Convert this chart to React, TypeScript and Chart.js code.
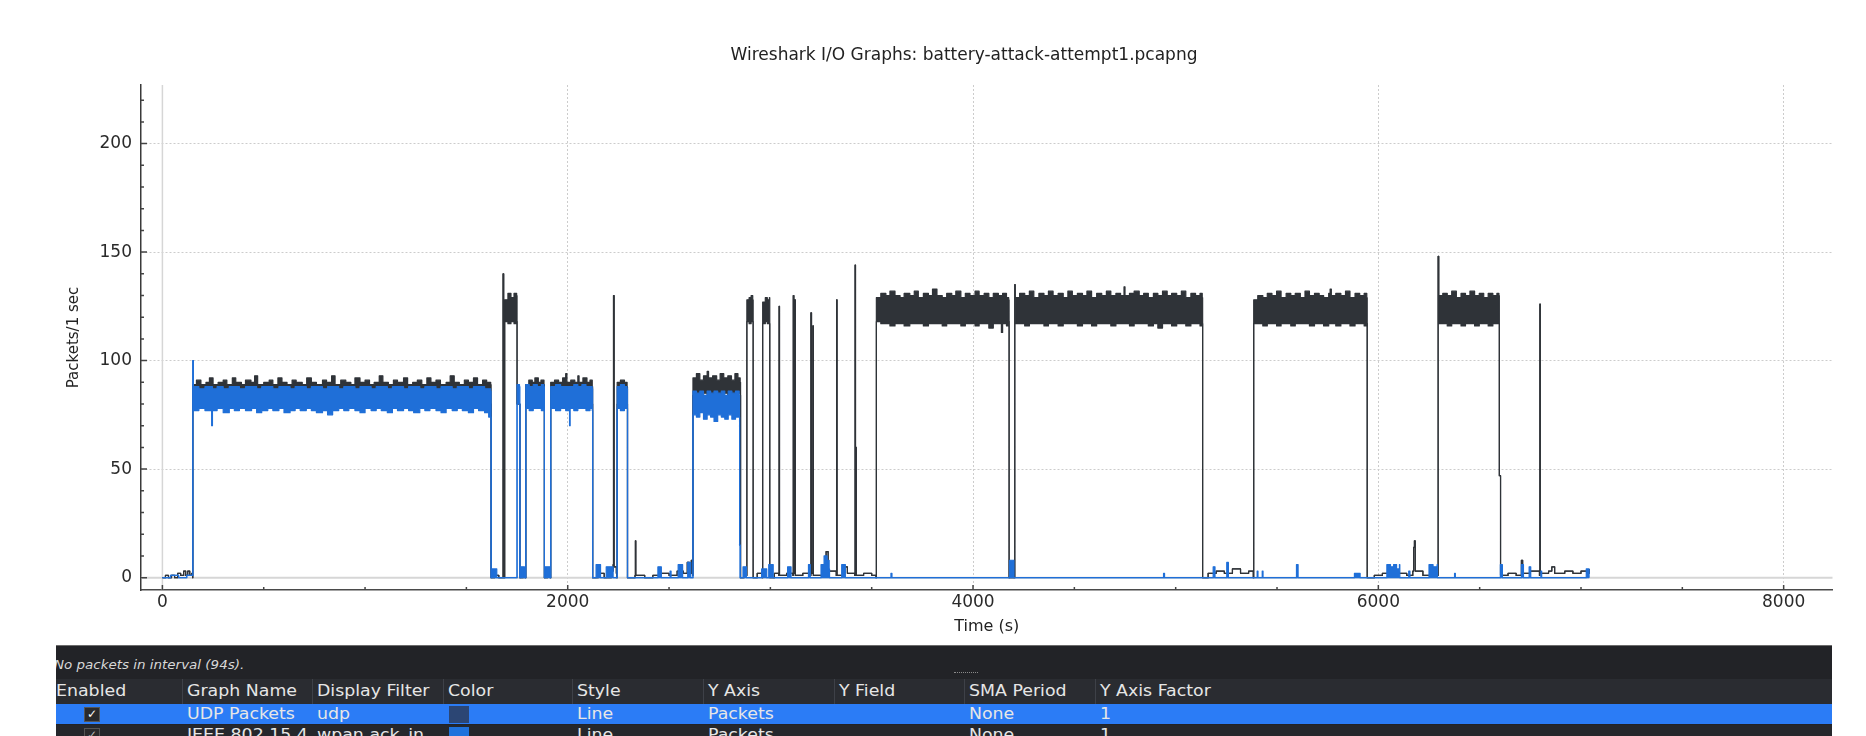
import React, { useEffect, useRef } from 'react';
import { Chart, registerables } from 'chart.js';

Chart.register(...registerables);

// ---------------- data ----------------
const chartTitle = 'Wireshark I/O Graphs: battery-attack-attempt1.pcapng';
const xAxisTitle = 'Time (s)';
const yAxisTitle = 'Packets/1 sec';

const xTicks = [0, 2000, 4000, 6000, 8000];
const xMinorTicks = [500, 1000, 1500, 2500, 3000, 3500, 4500, 5000, 5500, 6500, 7000, 7500];
const yTicks = [0, 50, 100, 150, 200];
const yMinorTicks = [10, 20, 30, 40, 60, 70, 80, 90, 110, 120, 130, 140, 160, 170, 180, 190, 210, 220];

// UDP Packets: [time s, upper envelope, lower envelope] (packets / 1 s)
const udpSamples: number[][] = [
  [0, 0, 0], [15, 1, 1], [30, 0, 0], [45, 1, 1], [60, 0, 0], [75, 2, 2], [90, 1, 1], [105, 3, 3], [115, 1, 1], [125, 3, 3], [135, 1, 1], [145, 2, 2], [149, 0, 0],
  [150, 89, 80], [168, 91, 80], [190, 89, 80], [215, 90, 80], [232, 92, 80], [250, 89, 80], [275, 90, 80], [300, 91, 80], [318, 89, 80], [345, 92, 80], [362, 90, 80], [390, 89, 80], [410, 91, 80], [437, 90, 80], [455, 93, 80], [470, 89, 80], [500, 90, 80], [527, 91, 80], [545, 89, 80], [570, 92, 80], [590, 90, 80], [615, 89, 80], [640, 91, 80], [660, 90, 80], [690, 89, 80], [712, 92, 80], [735, 90, 80], [760, 89, 80], [790, 91, 80], [810, 90, 80], [835, 93, 80], [852, 89, 80], [880, 91, 80], [905, 90, 80], [930, 89, 80], [950, 92, 80], [975, 90, 80], [1000, 91, 80], [1022, 89, 80], [1045, 90, 80], [1070, 93, 80], [1088, 90, 80], [1115, 89, 80], [1140, 91, 80], [1160, 90, 80], [1190, 92, 80], [1210, 89, 80], [1235, 90, 80], [1258, 91, 80], [1280, 89, 80], [1305, 92, 80], [1325, 90, 80], [1350, 91, 80], [1372, 89, 80], [1400, 90, 80], [1420, 93, 80], [1440, 90, 80], [1465, 89, 80], [1490, 91, 80], [1510, 90, 80], [1535, 92, 80], [1555, 89, 80], [1580, 91, 80], [1600, 90, 80], [1620, 89, 80],
  [1622, 0, 0], [1640, 1, 1], [1660, 0, 0], [1679, 0, 0], [1681, 140, 140], [1684, 0, 0], [1687, 0, 0], [1689, 128, 118], [1705, 131, 117], [1720, 129, 118], [1735, 131, 117], [1748, 130, 118], [1750, 80, 80], [1762, 80, 80], [1764, 0, 0], [1780, 1, 1], [1791, 0, 0],
  [1793, 89, 80], [1808, 91, 80], [1825, 90, 80], [1838, 92, 80], [1855, 90, 80], [1868, 91, 80], [1883, 89, 80], [1885, 0, 0], [1900, 3, 3], [1914, 0, 0],
  [1916, 90, 80], [1935, 91, 80], [1955, 90, 80], [1975, 92, 80], [1990, 94, 80], [1996, 90, 80], [2015, 91, 80], [2035, 90, 80], [2050, 93, 80], [2056, 90, 80], [2075, 92, 80], [2095, 90, 80], [2110, 91, 80], [2121, 88, 80], [2123, 0, 0], [2150, 2, 2], [2180, 0, 0], [2215, 3, 3], [2224, 6, 6], [2226, 130, 130], [2229, 5, 5], [2240, 2, 2], [2242, 0, 0],
  [2244, 90, 80], [2260, 91, 80], [2280, 90, 80], [2293, 88, 80], [2295, 0, 0], [2332, 1, 1], [2334, 17, 17], [2336, 1, 1], [2380, 0, 0], [2420, 1, 1], [2460, 2, 2], [2500, 1, 1], [2540, 3, 3], [2570, 2, 2], [2590, 7, 7], [2600, 2, 2], [2610, 8, 8], [2616, 1, 1],
  [2618, 92, 84], [2635, 94, 85], [2652, 91, 84], [2670, 93, 85], [2688, 95, 84], [2695, 92, 85], [2715, 93, 84], [2735, 91, 85], [2752, 94, 84], [2770, 92, 85], [2790, 93, 84], [2808, 91, 85], [2825, 94, 84], [2840, 92, 85], [2851, 90, 84], [2853, 0, 0], [2870, 4, 4], [2882, 1, 1],
  [2884, 128, 118], [2895, 129, 117], [2905, 130, 118], [2913, 128, 118], [2915, 0, 0], [2935, 2, 2], [2960, 0, 0],
  [2962, 127, 117], [2975, 129, 118], [2985, 128, 117], [2995, 129, 117], [2997, 0, 0], [3020, 2, 2], [3041, 1, 1], [3043, 125, 125], [3045, 1, 1], [3080, 2, 2], [3111, 1, 1], [3113, 130, 130], [3116, 2, 2], [3119, 2, 2], [3121, 128, 128], [3123, 1, 1], [3160, 2, 2], [3198, 1, 1], [3200, 122, 122], [3203, 2, 2], [3208, 2, 2], [3210, 116, 116], [3212, 1, 1], [3260, 3, 3], [3275, 12, 12], [3285, 3, 3], [3325, 1, 1], [3327, 128, 128], [3329, 1, 1], [3360, 5, 5], [3380, 2, 2], [3416, 1, 1], [3418, 144, 144], [3420, 2, 2], [3422, 60, 60], [3424, 1, 1], [3460, 2, 2], [3500, 1, 1], [3521, 0, 0],
  [3523, 129, 118], [3545, 131, 117], [3570, 130, 117], [3590, 132, 116], [3615, 130, 117], [3640, 129, 117], [3660, 131, 116], [3688, 130, 117], [3710, 132, 117], [3730, 129, 117], [3755, 131, 116], [3780, 130, 117], [3800, 133, 117], [3822, 130, 117], [3848, 129, 116], [3870, 131, 117], [3895, 130, 117], [3915, 132, 117], [3940, 129, 116], [3962, 131, 117], [3985, 130, 117], [4010, 132, 116], [4030, 130, 117], [4055, 131, 117], [4078, 129, 115], [4100, 131, 117], [4125, 130, 117], [4140, 130, 113], [4146, 131, 117], [4165, 129, 116], [4176, 128, 118],
  [4178, 0, 0], [4204, 0, 0], [4206, 135, 135], [4208, 129, 117], [4230, 131, 117], [4255, 130, 116], [4278, 132, 117], [4300, 129, 117], [4325, 131, 117], [4350, 130, 116], [4372, 132, 117], [4395, 130, 117], [4420, 131, 116], [4445, 129, 117], [4468, 132, 117], [4490, 130, 117], [4515, 131, 116], [4540, 130, 117], [4562, 132, 117], [4585, 129, 116], [4610, 131, 117], [4635, 130, 117], [4658, 132, 117], [4680, 130, 116], [4705, 131, 117], [4728, 130, 117], [4745, 134, 117], [4750, 130, 117], [4772, 131, 116], [4795, 132, 117], [4820, 130, 117], [4842, 131, 117], [4865, 129, 116], [4890, 131, 117], [4912, 130, 115], [4935, 132, 117], [4958, 130, 117], [4980, 131, 116], [5005, 130, 117], [5028, 132, 117], [5050, 129, 116], [5075, 131, 117], [5098, 130, 117], [5120, 131, 116], [5131, 129, 117],
  [5133, 0, 0], [5160, 2, 2], [5200, 3, 3], [5240, 2, 2], [5280, 4, 4], [5320, 2, 2], [5360, 3, 3], [5383, 0, 0],
  [5385, 128, 117], [5405, 130, 117], [5430, 129, 116], [5452, 131, 117], [5475, 130, 117], [5498, 132, 116], [5520, 129, 117], [5545, 131, 117], [5568, 130, 116], [5590, 131, 117], [5615, 129, 117], [5638, 132, 117], [5660, 130, 116], [5685, 131, 117], [5708, 130, 117], [5730, 129, 116], [5755, 131, 117], [5762, 133, 117], [5768, 130, 117], [5790, 131, 116], [5815, 130, 117], [5838, 132, 117], [5860, 129, 116], [5885, 131, 117], [5908, 130, 117], [5930, 131, 116], [5943, 129, 117],
  [5945, 0, 0], [5980, 1, 1], [6020, 2, 2], [6060, 3, 3], [6100, 2, 2], [6140, 1, 1], [6170, 3, 3], [6174, 14, 14], [6178, 17, 17], [6182, 3, 3], [6220, 1, 1], [6260, 4, 4], [6293, 1, 1], [6295, 148, 148],
  [6298, 130, 117], [6318, 131, 117], [6340, 130, 116], [6362, 132, 117], [6385, 129, 117], [6408, 131, 116], [6430, 130, 117], [6452, 132, 117], [6475, 130, 116], [6498, 131, 117], [6520, 129, 117], [6542, 131, 116], [6565, 130, 117], [6585, 131, 117], [6595, 130, 117],
  [6597, 47, 47], [6601, 47, 47], [6603, 1, 1], [6640, 2, 2], [6680, 1, 1], [6706, 8, 8], [6712, 2, 2], [6750, 3, 3], [6795, 1, 1], [6797, 126, 126], [6799, 2, 2], [6840, 3, 3], [6856, 5, 5], [6870, 2, 2], [6920, 3, 3], [6960, 2, 2], [7000, 3, 3], [7030, 2, 2], [7040, 4, 4],
];

// IEEE 802.15.4 (wpan.ack_in): [time s, upper envelope, lower envelope]
const ackSamples: number[][] = [
  [0, 0, 0], [40, 1, 1], [80, 0, 0], [120, 1, 1], [148, 1, 1], [150, 100, 100], [153, 88, 77],
  [180, 87, 78], [210, 88, 77], [243, 88, 70], [247, 87, 77], [270, 88, 78], [300, 87, 76], [330, 88, 78], [355, 88, 77], [380, 87, 78], [410, 88, 77], [440, 88, 78], [465, 87, 76], [490, 88, 77], [520, 88, 78], [545, 87, 77], [575, 88, 78], [600, 88, 76], [630, 87, 77], [655, 88, 78], [680, 88, 77], [710, 87, 78], [735, 88, 77], [760, 88, 76], [790, 87, 77], [815, 88, 75], [840, 88, 77], [870, 87, 78], [895, 88, 77], [920, 88, 78], [950, 87, 77], [975, 88, 76], [1000, 88, 78], [1030, 87, 77], [1055, 88, 78], [1080, 88, 77], [1110, 87, 76], [1135, 88, 78], [1160, 88, 77], [1190, 87, 78], [1215, 88, 77], [1240, 88, 76], [1270, 87, 78], [1295, 88, 77], [1320, 88, 78], [1350, 87, 77], [1375, 88, 76], [1400, 88, 78], [1430, 87, 77], [1455, 88, 78], [1480, 88, 77], [1510, 87, 76], [1535, 88, 78], [1560, 88, 77], [1590, 87, 76], [1610, 87, 74], [1620, 86, 74],
  [1622, 0, 0], [1626, 4, 0], [1648, 4, 0], [1650, 0, 0], [1748, 0, 0], [1750, 89, 80], [1762, 88, 80], [1764, 0, 0], [1768, 5, 0], [1785, 5, 0], [1787, 0, 0], [1791, 0, 0],
  [1793, 89, 78], [1810, 88, 77], [1830, 89, 78], [1850, 88, 78], [1870, 89, 77], [1883, 88, 78], [1885, 0, 0], [1888, 5, 0], [1912, 5, 0], [1914, 0, 0],
  [1916, 88, 78], [1940, 89, 77], [1965, 88, 78], [1990, 88, 77], [2006, 88, 78], [2009, 88, 70], [2012, 88, 78], [2030, 89, 77], [2050, 88, 78], [2070, 89, 78], [2090, 88, 77], [2110, 88, 78], [2121, 87, 77], [2123, 0, 0], [2138, 0, 0], [2140, 6, 0], [2160, 6, 0], [2162, 0, 0], [2188, 0, 0], [2190, 5, 0], [2222, 5, 0], [2224, 0, 0], [2242, 0, 0],
  [2244, 88, 78], [2260, 89, 77], [2280, 88, 78], [2293, 87, 78], [2295, 0, 0], [2443, 0, 0], [2445, 5, 0], [2460, 5, 0], [2462, 0, 0], [2503, 0, 0], [2505, 3, 0], [2510, 0, 0], [2543, 0, 0], [2545, 6, 0], [2565, 6, 0], [2567, 0, 0], [2590, 0, 0], [2592, 7, 0], [2605, 7, 0], [2607, 0, 0], [2616, 0, 0],
  [2618, 86, 75], [2635, 85, 74], [2652, 86, 76], [2670, 84, 73], [2688, 86, 75], [2705, 85, 74], [2722, 86, 72], [2740, 85, 75], [2758, 86, 74], [2775, 84, 73], [2792, 86, 75], [2810, 85, 73], [2828, 86, 74], [2846, 84, 74], [2848, 15, 15], [2851, 0, 0], [2863, 0, 0], [2865, 5, 0], [2880, 5, 0], [2882, 0, 0],
  [2955, 0, 0], [2957, 4, 0], [2980, 4, 0], [2982, 0, 0], [2990, 0, 0], [2992, 6, 0], [3012, 6, 0], [3014, 0, 0], [3083, 0, 0], [3085, 5, 0], [3100, 5, 0], [3102, 0, 0], [3186, 0, 0], [3188, 6, 0], [3195, 6, 0], [3197, 0, 0], [3248, 0, 0], [3250, 6, 0], [3265, 10, 0], [3280, 8, 0], [3290, 4, 0], [3292, 0, 0], [3350, 0, 0], [3352, 6, 0], [3368, 6, 0], [3370, 0, 0], [3593, 0, 0], [3595, 2, 0], [3600, 0, 0],
  [4178, 0, 0], [4180, 8, 0], [4200, 8, 0], [4202, 0, 0], [4938, 0, 0], [4940, 2, 0], [4945, 0, 0],
  [5183, 0, 0], [5185, 5, 0], [5192, 5, 0], [5194, 0, 0], [5250, 0, 0], [5252, 7, 0], [5258, 7, 0], [5260, 0, 0], [5400, 0, 0], [5402, 3, 0], [5406, 0, 0], [5425, 0, 0], [5427, 3, 0], [5431, 0, 0], [5594, 0, 0], [5596, 6, 0], [5602, 6, 0], [5604, 0, 0], [5880, 0, 0], [5882, 2, 0], [5908, 2, 0], [5910, 0, 0],
  [6040, 0, 0], [6042, 6, 0], [6060, 5, 0], [6075, 6, 0], [6090, 4, 0], [6104, 6, 0], [6106, 0, 0], [6148, 0, 0], [6150, 3, 0], [6156, 0, 0], [6248, 0, 0], [6250, 6, 0], [6270, 5, 0], [6290, 6, 0], [6292, 0, 0], [6374, 0, 0], [6376, 2, 0], [6380, 0, 0],
  [6600, 0, 0], [6602, 6, 0], [6610, 6, 0], [6612, 0, 0], [6704, 0, 0], [6706, 6, 0], [6714, 6, 0], [6716, 0, 0], [6742, 0, 0], [6744, 5, 0], [6750, 5, 0], [6752, 0, 0], [6800, 0, 0], [6802, 3, 0], [6806, 0, 0], [7020, 0, 0], [7026, 4, 0], [7034, 4, 0], [7040, 0, 0],
];

const tableHeaders = ['Enabled', 'Graph Name', 'Display Filter', 'Color', 'Style', 'Y Axis', 'Y Field', 'SMA Period', 'Y Axis Factor'];
const graphNames = ['UDP Packets', 'IEEE 802.15.4'];
const displayFilters = ['udp', 'wpan.ack_in'];
const graphStyles = ['Line', 'Line'];
const graphYAxis = ['Packets', 'Packets'];
const graphYField = ['', ''];
const graphSMA = ['None', 'None'];
const graphFactor = ['1', '1'];
const statusText = 'No packets in interval (94s).';

// ---------------- styling ----------------
const UDP_COLOR = '#2f3338';
const ACK_COLOR = '#1f6fd8';
const SWATCH_COLORS = ['#2c4674', '#1f72dc'];
const FONT = "'DejaVu Sans', sans-serif";
const COL_LEFT = [0, 131, 261, 392, 521, 652, 783, 913, 1044];

const decorPlugin = {
  id: 'decor',
  beforeDatasetsDraw(chart: any) {
    const { ctx, chartArea, scales } = chart;
    const x = scales.x, y = scales.y;
    ctx.save();
    ctx.strokeStyle = '#d6d6d6';
    ctx.lineWidth = 2;
    const y0 = y.getPixelForValue(0);
    ctx.beginPath();
    ctx.moveTo(chartArea.left, y0);
    ctx.lineTo(chartArea.right, y0);
    ctx.stroke();
    ctx.lineWidth = 1.5;
    const x0 = x.getPixelForValue(0);
    ctx.beginPath();
    ctx.moveTo(x0, chartArea.top);
    ctx.lineTo(x0, chartArea.bottom);
    ctx.stroke();
    ctx.restore();
  },
  afterDraw(chart: any) {
    const { ctx, chartArea, scales } = chart;
    const x = scales.x, y = scales.y;
    ctx.save();
    ctx.strokeStyle = '#444';
    ctx.lineWidth = 1.5;
    ctx.beginPath();
    yTicks.forEach((v) => { const p = y.getPixelForValue(v); ctx.moveTo(chartArea.left, p); ctx.lineTo(chartArea.left + 6, p); });
    yMinorTicks.forEach((v) => { const p = y.getPixelForValue(v); ctx.moveTo(chartArea.left, p); ctx.lineTo(chartArea.left + 3, p); });
    xTicks.forEach((v) => { const p = x.getPixelForValue(v); ctx.moveTo(p, chartArea.bottom); ctx.lineTo(p, chartArea.bottom - 5); });
    xMinorTicks.forEach((v) => { const p = x.getPixelForValue(v); ctx.moveTo(p, chartArea.bottom); ctx.lineTo(p, chartArea.bottom - 3); });
    ctx.stroke();
    ctx.restore();
  },
};

function lineSet(label: string, pts: { x: number; y: number }[], color: string, fill: any) {
  return {
    label,
    data: pts,
    borderColor: color,
    backgroundColor: color,
    borderWidth: 1.2,
    borderJoinStyle: 'round' as const,
    pointRadius: 0,
    stepped: true,
    fill,
  };
}

function ChartView() {
  const ref = useRef<HTMLCanvasElement>(null);
  useEffect(() => {
    const canvas = ref.current;
    if (!canvas) return;
    const ackLow = ackSamples.map((s) => ({ x: s[0], y: s[2] }));
    const ackHigh = ackSamples.map((s) => ({ x: s[0], y: s[1] }));
    const udpLow = udpSamples.map((s) => ({ x: s[0], y: s[2] }));
    const udpHigh = udpSamples.map((s) => ({ x: s[0], y: s[1] }));
    const chart = new Chart(canvas, {
      type: 'line',
      data: {
        datasets: [
          lineSet('IEEE 802.15.4 low', ackLow, ACK_COLOR, false),
          lineSet('IEEE 802.15.4', ackHigh, ACK_COLOR, '-1'),
          lineSet('UDP Packets low', udpLow, UDP_COLOR, false),
          lineSet('UDP Packets', udpHigh, UDP_COLOR, '-1'),
        ] as any,
      },
      options: {
        animation: false,
        responsive: false,
        maintainAspectRatio: false,
        devicePixelRatio: 1,
        events: [],
        layout: { padding: { left: 0, right: 33.5, top: 85, bottom: 0 } },
        plugins: {
          legend: { display: false },
          tooltip: { enabled: false },
          title: { display: false },
        },
        scales: {
          x: {
            type: 'linear',
            min: -105.6,
            max: 8241,
            afterBuildTicks: (s: any) => { s.ticks = xTicks.map((v) => ({ value: v })); },
            afterFit: (s: any) => { s.height = 54; },
            ticks: {
              autoSkip: false,
              maxRotation: 0,
              padding: 2,
              color: '#2a2a2a',
              font: { family: FONT, size: 17 },
              callback: (v: any) => String(v),
            },
            grid: { color: '#cccccc', lineWidth: 1, drawTicks: false },
            border: { display: true, color: '#4a4a4a', width: 1.5, dash: [2, 2] },
            title: {
              display: true,
              text: xAxisTitle,
              color: '#222',
              font: { family: FONT, size: 16 },
              padding: { top: 0, bottom: 8 },
            },
          },
          y: {
            type: 'linear',
            min: -5.7,
            max: 227,
            afterBuildTicks: (s: any) => { s.ticks = yTicks.map((v) => ({ value: v })); },
            afterFit: (s: any) => { s.width = 141; },
            ticks: {
              padding: 9,
              color: '#2a2a2a',
              font: { family: FONT, size: 17 },
              callback: (v: any) => String(v),
            },
            grid: { color: '#cccccc', lineWidth: 1, drawTicks: false },
            border: { display: true, color: '#3a3a3a', width: 1.5, dash: [2, 2] },
            title: {
              display: true,
              text: yAxisTitle,
              color: '#222',
              font: { family: FONT, size: 15 },
              padding: { top: 65, bottom: 0 },
            },
          },
        },
      } as any,
      plugins: [decorPlugin],
    });
    return () => chart.destroy();
  }, []);
  return <canvas ref={ref} width={1866} height={644} style={{ display: 'block', width: 1866, height: 644 }} />;
}

const cellText: React.CSSProperties = {
  position: 'absolute',
  whiteSpace: 'nowrap',
  transform: 'scaleX(1.12)',
  transformOrigin: 'left center',
  fontSize: 15.5,
};

function CheckBox({ dim }: { dim?: boolean }) {
  return (
    <div style={{ position: 'absolute', left: 28, top: 3, width: 14, height: 13, background: '#2a2a2c', border: '1px solid #555', color: dim ? '#bbb' : '#fff', fontSize: 12, lineHeight: '13px', textAlign: 'center', fontWeight: 'bold' }}>✓</div>
  );
}

function Row({ i, top, bg }: { i: number; top: number; bg: string }) {
  const texts = [graphNames[i], displayFilters[i], '', graphStyles[i], graphYAxis[i], graphYField[i], graphSMA[i], graphFactor[i]];
  return (
    <div style={{ position: 'absolute', left: 0, right: 0, top, height: 20, background: bg, lineHeight: '20px' }}>
      <CheckBox dim={i > 0} />
      {texts.map((t, k) => (t ? <div key={k} style={{ ...cellText, left: COL_LEFT[k + 1], top: 0 }}>{t}</div> : null))}
      <div style={{ position: 'absolute', left: 393, top: 2, width: 20, height: 17, background: SWATCH_COLORS[i] }} />
    </div>
  );
}

function GraphTable() {
  return (
    <div style={{ position: 'absolute', left: 56, top: 645, width: 1776, height: 91, background: '#222327', borderTop: '1px solid #6b6b6b', overflow: 'hidden', fontFamily: FONT, color: '#e6e6e6' }}>
      <div style={{ ...cellText, left: -2, top: 8, fontSize: 12, fontStyle: 'italic', color: '#d8d8d8', lineHeight: '22px' }}>{statusText}</div>
      <div style={{ position: 'absolute', left: 898, top: 26, width: 24, height: 0, borderTop: '1px dotted #8a8a8a' }} />
      <div style={{ position: 'absolute', left: 0, right: 0, top: 33, height: 25, background: '#2a2c31', lineHeight: '25px' }}>
        {tableHeaders.map((h, k) => (
          <React.Fragment key={k}>
            {k > 0 ? <div style={{ position: 'absolute', left: COL_LEFT[k] - 5, top: 0, width: 1, height: 25, background: '#3e4148' }} /> : null}
            <div style={{ ...cellText, left: COL_LEFT[k], top: 0 }}>{h}</div>
          </React.Fragment>
        ))}
      </div>
      <Row i={0} top={58} bg="#2b7cf6" />
      <Row i={1} top={79} bg="#25272c" />
    </div>
  );
}

export default function App() {
  return (
    <div style={{ position: 'fixed', left: 0, top: 0, width: 1866, height: 736, background: '#ffffff', overflow: 'hidden' }}>
      <div style={{ position: 'absolute', left: 0, top: 0, width: 1866, height: 644 }}>
        <ChartView />
      </div>
      <div style={{ position: 'absolute', left: 964, top: 44, transform: 'translateX(-50%)', whiteSpace: 'nowrap', fontFamily: FONT, fontSize: 17, lineHeight: '20px', color: '#222' }}>{chartTitle}</div>
      <GraphTable />
    </div>
  );
}
